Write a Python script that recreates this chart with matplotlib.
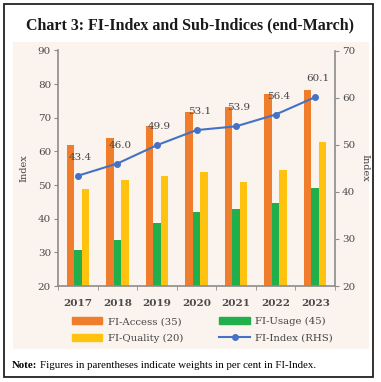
import matplotlib.pyplot as plt
import numpy as np
from matplotlib.patches import Rectangle, Patch
from matplotlib.lines import Line2D

years = ["2017", "2018", "2019", "2020", "2021", "2022", "2023"]
fi_access = [61.8, 63.9, 67.6, 71.6, 73.1, 77.1, 78.2]
fi_usage = [30.7, 33.8, 38.7, 42.0, 43.0, 44.8, 49.1]
fi_quality = [48.7, 51.4, 52.7, 53.8, 50.8, 54.6, 62.8]
fi_index = [43.4, 46.0, 49.9, 53.1, 53.9, 56.4, 60.1]

c_access = "#F07D2C"
c_usage = "#21AF4B"
c_quality = "#FFC20E"
c_index = "#4472C4"
bg = "#FBF3EE"
grey = "#8C8C8C"
serif = "DejaVu Serif"

fig = plt.figure(figsize=(3.81, 3.82), dpi=100)
W, H = 381, 382

# outer frame and beige panel
fig.patches.append(Rectangle((4 / W, 1 - 377 / H), 369 / W, 373 / H, transform=fig.transFigure,
                             fill=False, edgecolor="#222222", linewidth=1.3))
fig.patches.append(Rectangle((13 / W, 1 - 349 / H), 356 / W, 307 / H, transform=fig.transFigure,
                             facecolor=bg, edgecolor="none", zorder=-5))

fig.text(0.5, 1 - 25 / H, "Chart 3: FI-Index and Sub-Indices (end-March)", ha="center", va="center",
         fontsize=11.5, fontweight="bold", family="Liberation Serif", color="#1a1a1a")

ax = fig.add_axes([58 / W, 1 - 286 / H, 277 / W, 235.5 / H])
ax.set_facecolor("none")
x = np.arange(len(years))
w = 0.19
ax.bar(x - w, fi_access, w, color=c_access, zorder=2)
ax.bar(x, fi_usage, w, color=c_usage, zorder=2)
ax.bar(x + w, fi_quality, w, color=c_quality, zorder=2)
ax.set_ylim(20, 90)
ax.set_xlim(-0.5, len(years) - 0.5)
ax.set_yticks(range(20, 91, 10))
ax.set_xticks(x)
ax.set_xticklabels(years)
ax.set_xticks(np.arange(-0.5, len(years)), minor=True)
ax.tick_params(axis="x", which="major", length=0, pad=9)
ax.tick_params(axis="x", which="minor", length=3, color=grey)
ax.tick_params(axis="y", length=3, color=grey, pad=2)
for lab in ax.get_yticklabels():
    lab.set_family(serif)
    lab.set_fontsize(7.5)
    lab.set_color("#4a4a4a")
for lab in ax.get_xticklabels():
    lab.set_family(serif)
    lab.set_fontsize(7.5)
    lab.set_fontweight("bold")
    lab.set_color("#4a4a4a")
ax.set_ylabel("Index", family=serif, fontsize=7, color="#444444", labelpad=7)
for s in ["top", "right"]:
    ax.spines[s].set_visible(False)
for s in ["left", "bottom"]:
    ax.spines[s].set_color(grey)
    ax.spines[s].set_linewidth(1.2)

ax2 = ax.twinx()
ax2.plot(x, fi_index, color=c_index, marker="o", markersize=4, linewidth=1.5, zorder=3)
ax2.set_ylim(20, 70)
ax2.set_yticks(range(20, 71, 10))
ax2.tick_params(axis="y", length=3, color=grey, pad=2)
for lab in ax2.get_yticklabels():
    lab.set_family(serif)
    lab.set_fontsize(7.5)
    lab.set_color("#4a4a4a")
ax2.set_ylabel("Index", family=serif, fontsize=7, color="#444444", rotation=270, labelpad=10)
for s in ["top", "left", "bottom"]:
    ax2.spines[s].set_visible(False)
ax2.spines["right"].set_color(grey)
ax2.spines["right"].set_linewidth(1.2)
for xi, v in zip(x, fi_index):
    ax2.annotate(f"{v:.1f}", (xi, v), xytext=(2, 10), textcoords="offset points",
                 ha="center", va="bottom", family=serif, fontsize=7.5, color="#444444")

handles = [Patch(color=c_access), Patch(color=c_quality), Patch(color=c_usage),
           Line2D([], [], color=c_index, marker="o", markersize=4, linewidth=1.5)]
labels = ["FI-Access (35)", "FI-Quality (20)", "FI-Usage (45)", "FI-Index (RHS)"]
fig.legend(handles, labels, ncol=2, loc="center left", bbox_to_anchor=(68 / W, 1 - 330 / H),
           borderaxespad=0, frameon=False, prop={"family": serif, "size": 7.3}, handlelength=3,
           handleheight=0.6, handletextpad=0.5, columnspacing=3.6, labelspacing=0.75,
           labelcolor="#444444")

fig.text(12 / W, 1 - 365 / H, "Note:", fontsize=7.8, fontweight="bold", family="Liberation Serif",
         va="center")
fig.text(40 / W, 1 - 365 / H, "Figures in parentheses indicate weights in per cent in FI-Index.",
         fontsize=7.8, family="Liberation Serif", va="center")

fig.savefig("out.png", dpi=100)
